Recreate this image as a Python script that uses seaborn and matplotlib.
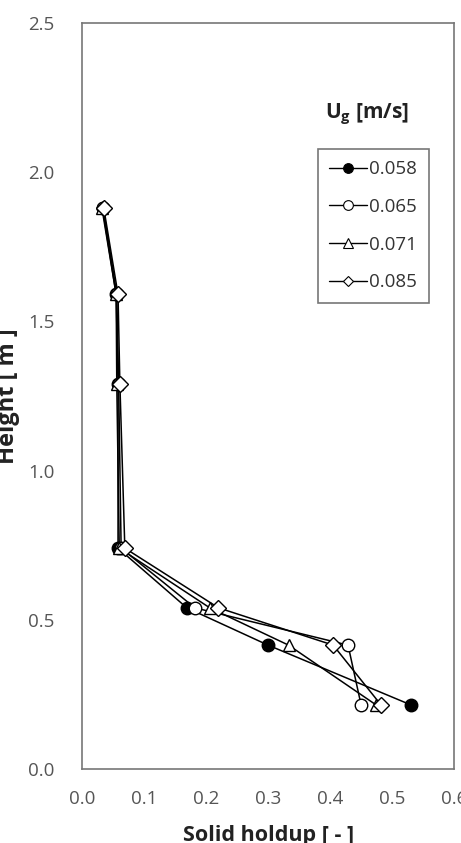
import numpy as np
import pandas as pd
import seaborn as sns
import matplotlib
matplotlib.use("Agg")
import matplotlib.pyplot as plt
from matplotlib.lines import Line2D

height = [1.88, 1.59, 1.29, 0.74, 0.54, 0.415, 0.215]
ug_labels = ["0.058", "0.065", "0.071", "0.085"]
holdup_058 = [0.033, 0.055, 0.058, 0.058, 0.169, 0.300, 0.530]
holdup_065 = [0.034, 0.056, 0.059, 0.063, 0.182, 0.429, 0.450]
holdup_071 = [0.032, 0.055, 0.056, 0.060, 0.206, 0.333, 0.474]
holdup_085 = [0.035, 0.058, 0.061, 0.069, 0.220, 0.405, 0.482]
series = [holdup_058, holdup_065, holdup_071, holdup_085]

sns.set_theme(style="white")
plt.rcParams['font.family'] = ['Open Sans', 'DejaVu Sans']

fig = plt.figure(figsize=(4.61, 8.43), dpi=100)
ax = fig.add_axes([0.178, 0.0878, 0.807, 0.885])

markers = ['o', 'o', '^', 'D']
faces = ['black', 'white', 'white', 'white']
sizes = [9, 9, 9, 8]
handles = []
for lab, vals, m, fc, ms in zip(ug_labels, series, markers, faces, sizes):
    df = pd.DataFrame({"holdup": vals, "height": height})
    sns.lineplot(data=df, x="holdup", y="height", sort=False, ax=ax,
                 color='black', linewidth=1.1, marker=m, markersize=ms,
                 markerfacecolor=fc, markeredgecolor='black',
                 markeredgewidth=1.0, estimator=None)
    handles.append(Line2D([0], [0], color='black', linewidth=1.0, marker=m,
                          markersize=7 if m != 'D' else 5.5, markerfacecolor=fc,
                          markeredgecolor='black', markeredgewidth=0.8, label=lab))

ax.set_xlim(0, 0.6)
ax.set_ylim(0, 2.5)
ax.set_xticks(np.arange(0, 0.61, 0.1))
ax.set_yticks(np.arange(0, 2.51, 0.5))
ax.set_xticklabels([f"{v:.1f}" for v in np.arange(0, 0.61, 0.1)])
ax.set_yticklabels([f"{v:.1f}" for v in np.arange(0, 2.51, 0.5)])
ax.tick_params(direction='in', length=6, width=1, colors='#777777',
               labelcolor='#555555', labelsize=13.5)
ax.tick_params(axis='y', pad=20)
ax.tick_params(axis='x', pad=15)
for s in ax.spines.values():
    s.set_color('#777777')
    s.set_linewidth(1.2)

ax.set_xlabel("Solid holdup [ - ]", fontsize=15.5, fontweight='bold',
              color='#222222', labelpad=12.5)
ax.set_ylabel("Height [ m ]", fontsize=17, fontweight='bold', color='#222222')
ax.yaxis.set_label_coords(-0.168, 0.5)

leg = ax.legend(handles=handles, loc='upper left', bbox_to_anchor=(0.634, 0.831),
                borderaxespad=0, frameon=True, fancybox=False, fontsize=13.5,
                handlelength=2.0, handletextpad=0.15, labelspacing=1.05,
                borderpad=0.6)
leg.get_frame().set_edgecolor('#555555')
leg.get_frame().set_linewidth(1.2)
for t in leg.get_texts():
    t.set_color('#333333')

ax.text(0.766, 0.877, "U$_\\mathregular{g}$ [m/s]", transform=ax.transAxes,
        ha='center', va='center', fontsize=15, fontweight='bold', color='#222222')

fig.savefig("out.png", dpi=100)
